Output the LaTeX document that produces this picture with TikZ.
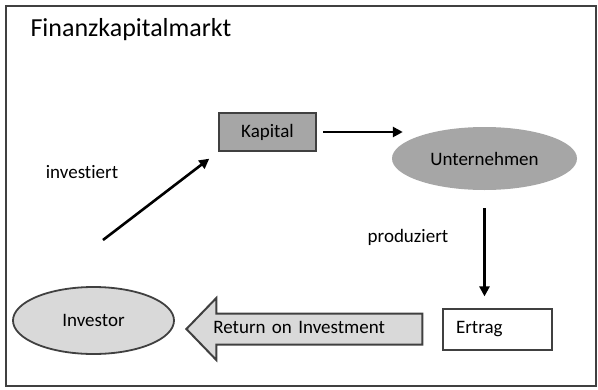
\documentclass[tikz,border=0pt]{standalone}
\usepackage{fontspec}
\setmainfont[Ligatures=NoCommon]{Carlito}
\usetikzlibrary{shapes.geometric,shapes.arrows,arrows.meta}
\definecolor{rahmen}{HTML}{404040}
\definecolor{mittelgrau}{HTML}{A6A6A6}
\definecolor{hellgrau}{HTML}{D9D9D9}

\begin{document}
\begin{tikzpicture}[x=1pt,y=-1pt,
    every node/.style={font=\fontsize{19}{22}\selectfont},
    pfeil/.style={-{Triangle[length=10pt,width=10pt]},line width=2.6pt},
    kasten/.style={draw=rahmen,rectangle,inner sep=0pt},
    oval/.style={ellipse,inner sep=0pt}]

  \useasboundingbox (0,0) rectangle (598,389);
  \draw[rahmen,line width=2pt] (6,6) rectangle (596,386);
  \node[anchor=west,font=\fontsize{26}{30}\selectfont] (titel) at (27,30) {Finanzkapitalmarkt};

  \node[kasten,fill=mittelgrau,line width=2pt,minimum width=97pt,minimum height=38pt] (kapital) at (267.5,132) {Kapital};
  \node[oval,fill=mittelgrau,minimum width=185pt,minimum height=63pt] (unternehmen) at (484.5,158.5) {Unternehmen};
  \node[oval,draw=rahmen,fill=hellgrau,line width=1.8pt,minimum width=161pt,minimum height=67pt] (investor) at (93.5,320.5) {Investor};
  \node[kasten,line width=1.2pt,text width=83pt,align=left,inner xsep=13pt,minimum height=41pt] (ertrag) at (497.5,329.5) {Ertrag};

  \node[single arrow,shape border rotate=180,draw=rahmen,fill=hellgrau,line width=2pt,
        single arrow head extend=15.5pt,single arrow tip angle=92,single arrow head indent=0pt,
        text width=215pt,align=left,inner xsep=2pt,inner ysep=6pt,text height=13pt,text depth=4pt,
        anchor=tip] (roi) at (185,329) {\hspace*{9pt}Return on Investment};

  \node (investiert) at (82,172) {investiert};
  \node (produziert) at (408,237) {produziert};

  \coordinate (anlage) at (103,240);
  \draw[pfeil,shorten >=11pt] (anlage) -- (kapital.south west);
  \draw[pfeil,shorten <=6pt] (kapital.east) -- ([xshift=11pt]kapital.east -| unternehmen.west);
  \draw[pfeil,shorten <=18pt,shorten >=12pt] (unternehmen.south) -- (unternehmen.south |- ertrag.north);
\end{tikzpicture}
\end{document}
